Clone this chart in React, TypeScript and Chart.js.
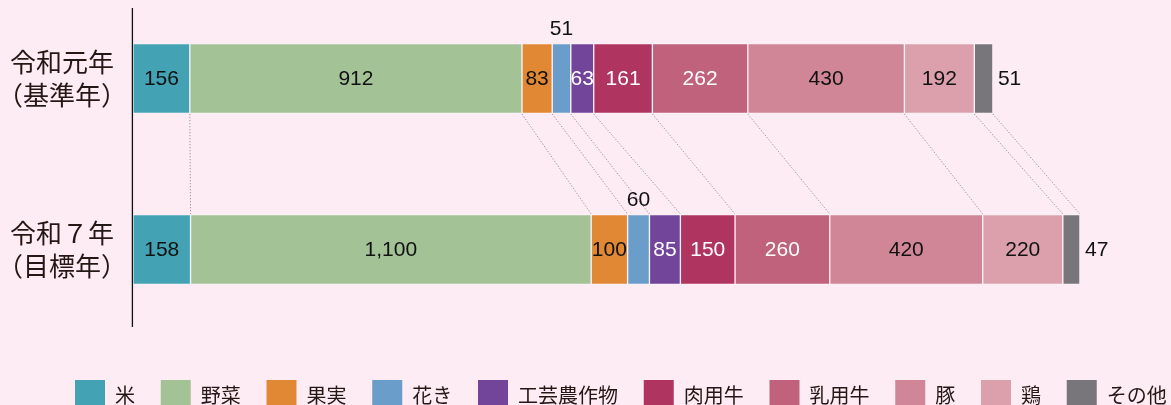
import { useEffect, useRef } from 'react';
import { Chart, registerables } from 'chart.js';

Chart.register(...registerables);

// ---- data ----
const categories = [
  ['令和元年', '（基準年）'],
  ['令和７年', '（目標年）'],
];
const seriesNames = ['米', '野菜', '果実', '花き', '工芸農作物', '肉用牛', '乳用牛', '豚', '鶏', 'その他'];
const baseYearValues = [156, 912, 83, 51, 63, 161, 262, 430, 192, 51];
const targetYearValues = [158, 1100, 100, 60, 85, 150, 260, 420, 220, 47];
const seriesColors = [
  '#43a3b4',
  '#a3c397',
  '#e18834',
  '#6b9dcb',
  '#72459a',
  '#af345f',
  '#c0627b',
  '#d08697',
  '#dba0ab',
  '#78767b',
];
const xMax = 2850;

// ---- styling helpers ----
const whiteTextSeries = new Set(['工芸農作物', '肉用牛', '乳用牛']);
const aboveLabelSeries = new Set(['花き']);
const rightLabelSeries = new Set(['その他']);
const TEXT = '#231815';
const JP_FONT = "'Noto Sans CJK JP', 'Noto Sans', sans-serif";

const axisLinePlugin = {
  id: 'axisLine',
  afterDatasetsDraw(chart: any) {
    const { ctx, chartArea } = chart;
    ctx.save();
    ctx.strokeStyle = '#111';
    ctx.lineWidth = 1.3;
    ctx.beginPath();
    const x = chartArea.left - 0.6;
    ctx.moveTo(x, chartArea.top - 70.5);
    ctx.lineTo(x, chartArea.bottom + 77.5);
    ctx.stroke();
    ctx.restore();
  },
};

const connectorPlugin = {
  id: 'connectors',
  afterDatasetsDraw(chart: any) {
    const { ctx } = chart;
    ctx.save();
    ctx.strokeStyle = '#8e8e8e';
    ctx.lineWidth = 0.9;
    ctx.setLineDash([1.3, 1.7]);
    chart.data.datasets.forEach((_ds: any, di: number) => {
      const meta = chart.getDatasetMeta(di);
      const a = meta.data[0];
      const b = meta.data[1];
      if (!a || !b) return;
      ctx.beginPath();
      ctx.moveTo(a.x, a.y + a.height / 2 + 0.5);
      ctx.lineTo(b.x, b.y - b.height / 2 - 0.5);
      ctx.stroke();
    });
    ctx.restore();
  },
};

const valueLabelPlugin = {
  id: 'valueLabels',
  afterDatasetsDraw(chart: any) {
    const { ctx } = chart;
    ctx.save();
    ctx.font = "21px 'Liberation Sans', Arial, sans-serif";
    ctx.textBaseline = 'middle';
    chart.data.datasets.forEach((ds: any, di: number) => {
      const meta = chart.getDatasetMeta(di);
      const name = ds.label as string;
      meta.data.forEach((el: any, j: number) => {
        const v = ds.data[j] as number;
        const text = v.toLocaleString('en-US');
        const cx = (el.x + el.base) / 2;
        if (aboveLabelSeries.has(name)) {
          ctx.fillStyle = '#111';
          ctx.textAlign = 'center';
          ctx.fillText(text, cx, el.y - el.height / 2 - 14);
        } else if (rightLabelSeries.has(name)) {
          ctx.fillStyle = '#111';
          ctx.textAlign = 'left';
          ctx.fillText(text, el.x + 5, el.y + 1);
        } else {
          ctx.fillStyle = whiteTextSeries.has(name) ? '#ffffff' : '#111';
          ctx.textAlign = 'center';
          ctx.fillText(text, cx, el.y + 1);
        }
      });
    });
    ctx.restore();
  },
};

export default function App() {
  const ref = useRef<HTMLCanvasElement>(null);

  useEffect(() => {
    if (!ref.current) return;
    const datasets = seriesNames.map((name, i) => ({
      label: name,
      data: [baseYearValues[i], targetYearValues[i]],
      backgroundColor: seriesColors[i],
      borderColor: 'rgba(255,255,255,0.3)',
      borderWidth: 1,
      borderSkipped: false,
      barThickness: 70,
      clip: false as any,
    }));

    const chart = new Chart(ref.current, {
      type: 'bar',
      data: { labels: categories as any, datasets },
      options: {
        indexAxis: 'y',
        animation: false,
        responsive: false,
        maintainAspectRatio: false,
        events: [],
        layout: { padding: { top: 78.5, left: 0, right: -70.75, bottom: 0 } },
        scales: {
          x: {
            stacked: true,
            min: 0,
            max: xMax,
            display: true,
            ticks: { display: false },
            grid: { display: false, drawTicks: false },
            border: { display: false },
            afterFit(scale: any) {
              scale.height = 104.75;
            },
          },
          y: {
            stacked: true,
            offset: false,
            grid: { display: false, drawTicks: false },
            border: { display: false },
            ticks: {
              color: TEXT,
              padding: 6,
              crossAlign: 'center',
              font: { family: JP_FONT, size: 26, lineHeight: 1.27 },
            },
            afterFit(scale: any) {
              scale.width = 133;
            },
          },
        },
        plugins: {
          tooltip: { enabled: false },
          legend: {
            position: 'bottom',
            align: 'center',
            labels: {
              boxWidth: 30,
              boxHeight: 30,
              padding: 25.75,
              color: TEXT,
              font: { family: JP_FONT, size: 20 },
              generateLabels: (c: any) =>
                c.data.datasets.map((ds: any, i: number) => ({
                  text: ds.label,
                  fillStyle: ds.backgroundColor,
                  strokeStyle: ds.backgroundColor,
                  lineWidth: 0,
                  hidden: false,
                  datasetIndex: i,
                  fontColor: TEXT,
                })),
            },
          },
        },
      },
      plugins: [axisLinePlugin, connectorPlugin, valueLabelPlugin],
    });
    return () => chart.destroy();
  }, []);

  return (
    <div
      style={{
        position: 'absolute',
        left: 0,
        top: 0,
        width: 1171,
        height: 405,
        overflow: 'hidden',
        background: '#fdecf4',
      }}
    >
      <canvas ref={ref} width={1171} height={420} style={{ display: 'block', width: 1171, height: 420 }} />
    </div>
  );
}
